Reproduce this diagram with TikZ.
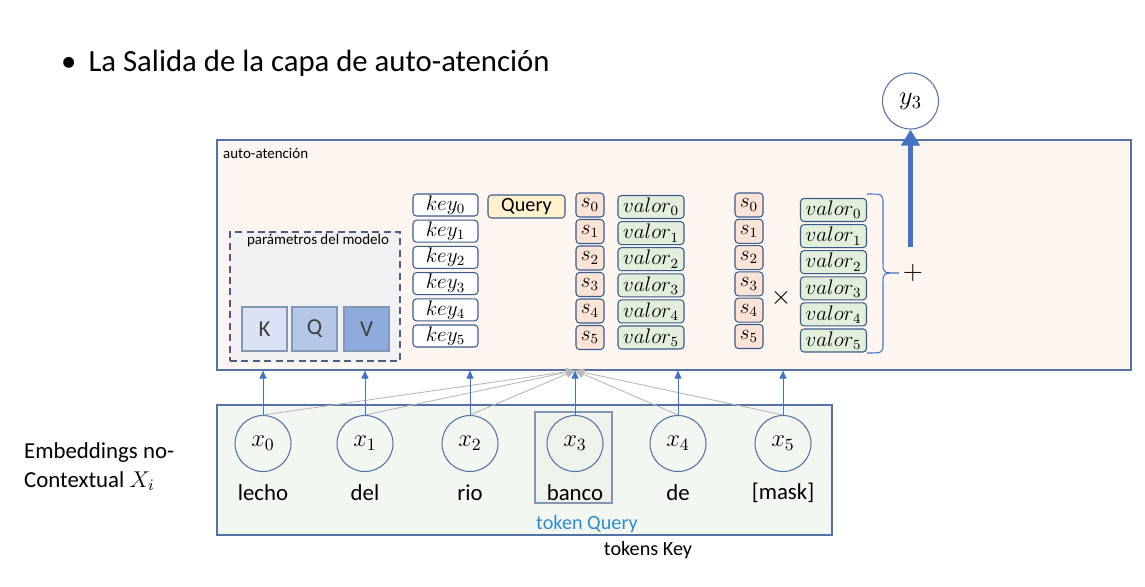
\documentclass[tikz,border=0pt]{standalone}
\usepackage{fix-cm}
\usepackage{fontspec}
\setmainfont{Carlito}
\usetikzlibrary{positioning,arrows.meta}

\definecolor{marco}{HTML}{5572A6}
\definecolor{borde}{HTML}{3B5B8E}
\definecolor{grisazul}{HTML}{8497B0}
\definecolor{trazos}{HTML}{4D5F80}
\definecolor{fondoat}{HTML}{FDF5F0}
\definecolor{fondoem}{HTML}{F3F7F1}
\definecolor{fondobanco}{HTML}{EDF3EA}
\definecolor{fondopar}{HTML}{F2F0F2}
\definecolor{colk}{HTML}{DAE3F3}
\definecolor{colq}{HTML}{B4C7E7}
\definecolor{colv}{HTML}{8FAADC}
\definecolor{cols}{HTML}{FBE3D6}
\definecolor{colval}{HTML}{E2EFDA}
\definecolor{colquery}{HTML}{FFF2CC}
\definecolor{flecha}{HTML}{4472C4}
\definecolor{gris}{HTML}{A6A6A6}
\definecolor{azultxt}{HTML}{2E8BD0}

\begin{document}
\begin{tikzpicture}[
  caja/.style={draw=borde,rounded corners=2pt,line width=0.6pt,inner sep=0pt,font=\fontsize{12}{13}\selectfont},
  keybox/.style={caja,fill=white,minimum width=1.30cm,minimum height=0.44cm},
  sbox/.style={caja,fill=cols,minimum width=0.56cm,minimum height=0.48cm},
  valbox/.style={caja,fill=colval,minimum width=1.32cm,minimum height=0.46cm},
  param/.style={draw=grisazul,line width=0.6pt,minimum width=0.90cm,minimum height=0.88cm,text=black!75,font=\fontsize{13}{15}\selectfont},
  token/.style={circle,draw=marco,line width=0.6pt,minimum size=1.12cm,inner sep=0pt,font=\fontsize{14}{16}\selectfont},
  palabra/.style={font=\fontsize{13}{15}\selectfont}
]
\useasboundingbox (0,0) rectangle (22.90,-11.72);

\node[anchor=west,font=\fontsize{17.5}{20}\selectfont] (titulo) at (1.10,-1.26) {\textbullet\hspace{0.24cm}La Salida de la capa de auto-atención};

% capa de auto-atencion
\node[draw=marco,fill=fondoat,line width=0.6pt,minimum width=18.28cm,minimum height=4.60cm] (atenc) at (13.48,-5.10) {};
\node[anchor=west,font=\fontsize{8.5}{10}\selectfont] (atlbl) at (4.34,-3.07) {auto-atención};

\node[draw=trazos,fill=fondopar,dash pattern=on 4pt off 2.5pt,line width=0.7pt,minimum width=3.40cm,minimum height=2.58cm] (params) at (6.30,-5.93) {};
\node[font=\fontsize{8.5}{10}\selectfont] (parlbl) at (6.36,-4.82) {parámetros del modelo};
\node[param,fill=colk] (K) at (5.29,-6.58) {K};
\node[param,fill=colq] (Q) at (6.29,-6.58) {Q};
\node[param,fill=colv] (V) at (7.33,-6.58) {V};

\foreach \i in {0,...,5} {
  \node[keybox] (key\i) at (8.91,-4.10-0.524*\i) {$key_{\i}$};
  \node[sbox] (s\i) at (11.80,-4.10-0.53*\i) {$s_{\i}$};
  \node[valbox] (val\i) at (13.02,-4.14-0.522*\i) {$valor_{\i}$};
  \node[sbox] (sb\i) at (14.98,-4.10-0.526*\i) {$s_{\i}$};
  \node[valbox] (valb\i) at (16.67,-4.20-0.522*\i) {$valor_{\i}$};
}
\node[caja,fill=colquery,minimum width=1.54cm,minimum height=0.46cm,font=\fontsize{11.5}{13}\selectfont] (query) at (10.53,-4.13) {Query};

\node[font=\fontsize{15}{17}\selectfont] (por) at (15.62,-5.96) {$\times$};
\draw[flecha,line width=0.6pt] (17.34,-3.88) .. controls (17.66,-3.88) .. (17.66,-4.08) -- (17.66,-5.26)
  .. controls (17.66,-5.46) .. (17.98,-5.46) .. controls (17.66,-5.46) .. (17.66,-5.66) -- (17.66,-6.86)
  .. controls (17.66,-7.06) .. (17.34,-7.06);
\node[font=\fontsize{15}{17}\selectfont] (mas) at (18.26,-5.46) {$+$};

\node[token,font=\fontsize{15}{17}\selectfont] (y3) at (18.21,-2.02) {$y_3$};
\coordinate (suma) at (18.21,-4.94);
\draw[flecha,line width=2.3pt,-{Triangle[length=3.2mm,width=3.6mm]}] (suma) -- (y3.south);

% embeddings
\node[draw=marco,fill=fondoem,line width=0.6pt,minimum width=12.30cm,minimum height=2.60cm] (embed) at (10.49,-9.40) {};
\node[draw=grisazul,fill=fondobanco,line width=0.6pt,minimum width=1.54cm,minimum height=1.82cm] (bancobox) at (11.47,-9.15) {};

\foreach \px/\pal [count=\i from 0] in {5.26/lecho,7.30/del,9.40/rio,11.50/banco,13.56/de,15.66/[mask]} {
  \node[token] (x\i) at (\px,-8.87) {$x_{\i}$};
  \node[palabra] (w\i) at (\px,-9.86) {\pal};
}

\coordinate (foco) at (x3.north |- atenc.south);
\foreach \i in {0,1,2,4,5}
  \draw[gris!80,line width=0.5pt,-{Triangle[length=1.8mm,width=1.6mm]}] (x\i.north) -- (foco);
\foreach \i in {0,...,5}
  \draw[flecha,line width=0.5pt,-{Triangle[length=1.6mm,width=1.4mm]}] (x\i.north) -- (x\i.north |- atenc.south);

\node[text=azultxt,font=\fontsize{11.5}{13}\selectfont] (tquery) at (11.74,-10.48) {token Query};
\node[font=\fontsize{11.5}{13}\selectfont] (tkey) at (12.96,-11.00) {tokens Key};
\node[anchor=west,align=left,font=\fontsize{13}{16.5}\selectfont] (emblbl) at (0.36,-9.33) {Embeddings no-\\Contextual $X_i$};

\end{tikzpicture}
\end{document}
